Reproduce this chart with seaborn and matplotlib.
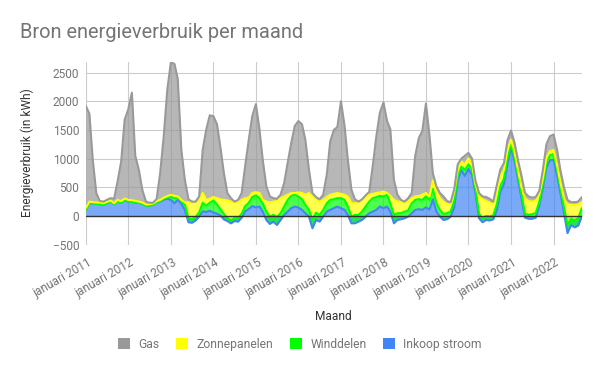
import numpy as np
import pandas as pd
import matplotlib.pyplot as plt
from matplotlib.patches import Patch
from matplotlib.transforms import ScaledTranslation
import seaborn as sns

# monthly values (kWh), januari 2011 .. september 2022
months = pd.date_range("2011-01-01", "2022-09-01", freq="MS")

inkoop_stroom = [
    105, 222, 222, 210, 210, 193, 222, 250, 205, 250, 234, 280,
    250, 250, 234, 234, 210, 175, 181, 193, 234, 250, 280, 300,
    280, 222, 280, 210, 105, -110, -120, -80, -10, 80, 70, 90,
    60, 40, 10, -60, -90, -130, -90, -100, -30, 80, 120, 170,
    150, 164, 76, -70, -140, -100, -158, -70, 18, 76, 135, 164,
    146, 105, 47, -12, -216, -70, -100, -12, 76, 105, 135, 164,
    135, 105, 18, -129, -129, -100, -70, -12, 47, 76, 105, 164,
    135, 164, 76, -129, -70, -58, -41, -12, 47, 105, 117, 105,
    150, 110, 290, 76, -12, -70, -58, -12, 150, 620, 800, 700,
    820, 720, 400, -40, -110, -70, -80, -60, 100, 420, 550, 900,
    1200, 950, 650, 300, -30, -50, -50, -30, 180, 480, 850, 970,
    980, 700, 400, 50, -300, -160, -200, -170, -12,
]
winddelen = [
    0, 0, 0, 0, 0, 0, 0, 0, 0, 0, 0, 0,
    0, 0, 0, 0, 0, 0, 0, 0, 0, 10, 20, 20,
    60, 88, 40, 40, 95, 70, 60, 60, 70, 150, 110, 140,
    210, 160, 110, 100, 50, 50, 50, 60, 70, 90, 110, 160,
    210, 146, 146, 146, 128, 118, 138, 117, 146, 204, 215, 206,
    194, 187, 146, 117, 146, 128, 118, 117, 146, 175, 157, 146,
    175, 175, 146, 117, 147, 118, 146, 176, 203, 234, 223, 186,
    205, 206, 146, 147, 117, 105, 117, 106, 175, 175, 175, 175,
    190, 170, 180, 146, 117, 105, 105, 88, 116, 80, 60, 100,
    80, 100, 80, 80, 60, 70, 70, 70, 100, 100, 100, 100,
    60, 70, 70, 80, 70, 70, 80, 80, 70, 70, 70, 90,
    100, 100, 80, 100, 150, 110, 120, 130, 147,
]
zonnepanelen = [
    30, 28, 18, 24, 24, 29, 24, 20, 17, 30, 23, 24,
    30, 25, 29, 16, 24, 24, 24, 23, 23, 20, 20, 25,
    30, 40, 20, 30, 34, 280, 290, 260, 230, 170, 100, 70,
    60, 110, 170, 240, 310, 330, 280, 280, 240, 140, 90, 70,
    55, 90, 58, 174, 246, 232, 280, 263, 176, 90, 50, 30,
    70, 108, 177, 295, 410, 222, 232, 175, 108, 90, 94, 90,
    76, 90, 176, 234, 204, 216, 204, 176, 120, 76, 72, 60,
    87, 30, 128, 262, 203, 203, 158, 156, 88, 60, 58, 90,
    60, 60, 150, 205, 205, 215, 163, 117, 147, 100, 90, 100,
    100, 80, 80, 300, 340, 260, 240, 190, 220, 180, 150, 150,
    70, 90, 90, 120, 260, 240, 220, 210, 130, 100, 100, 70,
    70, 80, 100, 150, 350, 250, 270, 240, 115,
]
gas = [
    1785, 1530, 760, 166, 26, 28, 34, 40, 78, 320, 693, 1376,
    1580, 1875, 787, 550, 216, 51, 25, 14, 43, 470, 1080, 1855,
    2310, 2300, 2050, 870, 396, 50, 20, 10, 50, 750, 1230, 1455,
    1410, 1290, 930, 470, 130, 60, 10, 40, 120, 560, 1010, 1340,
    1535, 1110, 700, 265, 106, 60, 40, 60, 233, 554, 875, 1168,
    1245, 1200, 960, 407, 60, 50, 40, 90, 390, 930, 1114, 1150,
    1614, 1200, 640, 234, 68, 16, 10, 20, 50, 484, 990, 1390,
    1553, 1255, 1160, 350, 120, 30, 16, 60, 90, 710, 1010, 1110,
    1560, 1050, 130, 88, 90, 90, 50, 47, 53, 100, 50, 150,
    100, 100, 60, 60, 50, 70, 70, 50, 120, 110, 120, 170,
    160, 160, 170, 200, 100, 80, 70, 70, 60, 150, 230, 260,
    270, 270, 220, 200, 80, 40, 50, 50, 78,
]

# stacking order bottom -> top
stack_names = ["Inkoop stroom", "Winddelen", "Zonnepanelen", "Gas"]
stack_values = [inkoop_stroom, winddelen, zonnepanelen, gas]
colors = {
    "Gas": "#999999",
    "Zonnepanelen": "#ffff00",
    "Winddelen": "#00ff00",
    "Inkoop stroom": "#4285f4",
}
legend_order = ["Gas", "Zonnepanelen", "Winddelen", "Inkoop stroom"]

sns.set_theme(style="white")
plt.rcParams["font.family"] = ["Roboto", "DejaVu Sans"]

fig = plt.figure(figsize=(6, 3.71), dpi=100)
ax = fig.add_axes([0.143, 0.3407, 0.8267, 0.493])

tops = np.cumsum(np.array(stack_values, dtype=float), axis=0)
frames = []
lower = np.zeros(len(months))
for name, top in zip(stack_names, tops):
    ax.fill_between(months, lower, top, color=colors[name], alpha=0.7,
                    linewidth=0, zorder=2)
    frames.append(pd.DataFrame({"maand": months, "kwh": top, "bron": name}))
    lower = top
long_df = pd.concat(frames, ignore_index=True)

sns.lineplot(data=long_df, x="maand", y="kwh", hue="bron", palette=colors,
             hue_order=stack_names, linewidth=1.5, legend=False, ax=ax,
             zorder=3)

ax.axhline(0, color="#333333", linewidth=1, zorder=4)

ax.set_xlim(months[0], months[-1])
ax.set_ylim(-500, 2690)
ax.set_yticks(np.arange(-500, 2501, 500))
jan_ticks = [m for m in months if m.month == 1]
ax.set_xticks(jan_ticks)
ax.set_xticklabels([f"januari {m.year}" for m in jan_ticks])
ax.grid(True, color="#cccccc", linewidth=0.8, zorder=0)
ax.set_axisbelow(True)
for s in ax.spines.values():
    s.set_visible(False)
ax.set_xlabel("")
ax.set_ylabel("")

ax.tick_params(axis="y", length=0, pad=4.8, labelsize=8.6, labelcolor="#757575")
ax.tick_params(axis="x", length=0, pad=8.5, labelsize=8.6, labelcolor="#757575")
shift = ScaledTranslation(8 / 100, 0, fig.dpi_scale_trans)
for lbl in ax.get_xticklabels():
    lbl.set_rotation(30)
    lbl.set_ha("right")
    lbl.set_va("top")
    lbl.set_transform(lbl.get_transform() + shift)

fig.text(20 / 600, 1 - 37.7 / 371, "Bron energieverbruik per maand",
         fontsize=14.4, color="#757575", va="baseline", ha="left")
fig.text(27 / 600, 1 - 153 / 371, "Energieverbruik (in kWh)", rotation=90,
         fontsize=8.6, color="#333333", ha="center", va="center")
fig.text(333.7 / 600, 1 - 317 / 371, "Maand", fontsize=8.6, color="#333333",
         ha="center", va="center")

handles = [Patch(facecolor=colors[n], edgecolor="none", label=n) for n in legend_order]
fig.legend(handles=handles, loc="center", bbox_to_anchor=(0.5, 1 - 344.5 / 371),
           ncol=4, frameon=False, fontsize=8.7, handlelength=1.0, handleheight=1.0,
           handletextpad=0.7, columnspacing=1.35, labelcolor="#757575")

fig.savefig("out.png", dpi=100)
